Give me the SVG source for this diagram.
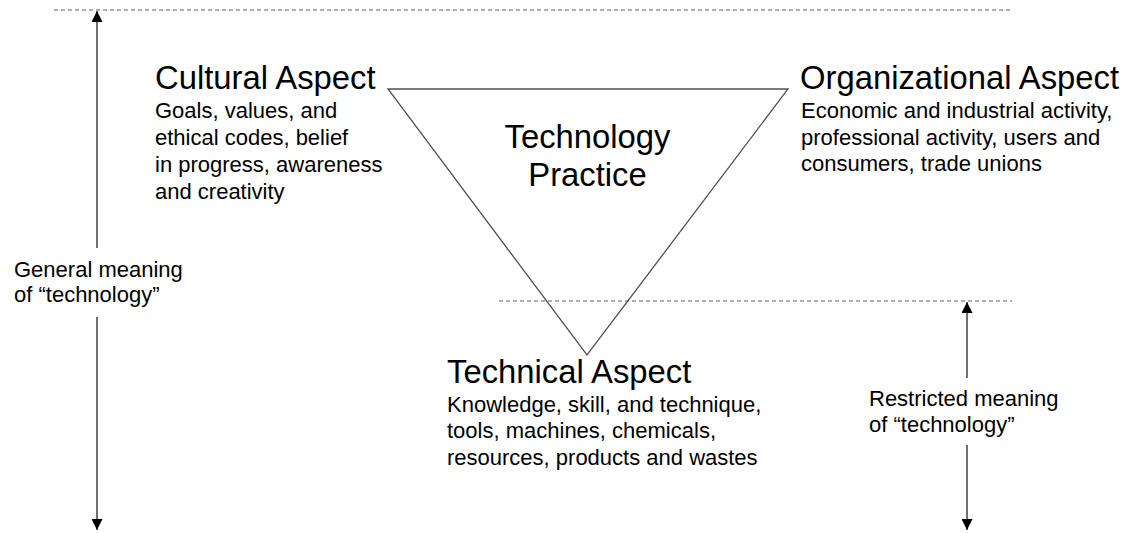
<svg xmlns="http://www.w3.org/2000/svg" width="1138" height="533" viewBox="0 0 1138 533">
<style>
text{font-family:"Liberation Sans",Arial,sans-serif;fill:#000}
.t{font-size:32.8px}
.b{font-size:22px}
.dash{stroke:#606060;stroke-width:1.2;stroke-dasharray:4 3;fill:none}
.ar{stroke:#404040;stroke-width:1.5;fill:none}
.head{fill:#000}
</style>
<defs>
<marker id="ah" viewBox="0 0 10 10" refX="10" refY="5" markerWidth="11" markerHeight="11" markerUnits="userSpaceOnUse" orient="auto">
<path d="M0,0 L10,5 L0,10 Z" class="head"/>
</marker>
</defs>
<rect width="1138" height="533" fill="#fff"/>
<g id="connectors">
<line class="dash" x1="54" y1="10" x2="1012" y2="10"/>
<line class="dash" x1="499" y1="301" x2="1012" y2="301"/>
<line class="ar" x1="97" y1="248" x2="97" y2="11" marker-end="url(#ah)"/>
<line class="ar" x1="97" y1="317" x2="97" y2="530" marker-end="url(#ah)"/>
<line class="ar" x1="967" y1="378" x2="967" y2="302" marker-end="url(#ah)"/>
<line class="ar" x1="967" y1="445" x2="967" y2="530" marker-end="url(#ah)"/>
</g>
<g id="practice">
<polygon points="388,89 788,89 587,355" fill="none" stroke="#505050" stroke-width="1.3"/>
<text class="t" x="587.5" y="148" text-anchor="middle">Technology</text>
<text class="t" x="587.5" y="186" text-anchor="middle">Practice</text>
</g>
<g id="cultural">
<text class="t" x="155" y="89">Cultural Aspect</text>
<text class="b" x="155" y="118">Goals, values, and</text>
<text class="b" x="155" y="145">ethical codes, belief</text>
<text class="b" x="155" y="172">in progress, awareness</text>
<text class="b" x="155" y="199">and creativity</text>
</g>
<g id="organizational">
<text class="t" x="800" y="89">Organizational Aspect</text>
<text class="b" x="801" y="118">Economic and industrial activity,</text>
<text class="b" x="801" y="145">professional activity, users and</text>
<text class="b" x="801" y="171">consumers, trade unions</text>
</g>
<g id="technical">
<text class="t" x="447" y="383">Technical Aspect</text>
<text class="b" x="447" y="412">Knowledge, skill, and technique,</text>
<text class="b" x="447" y="438">tools, machines, chemicals,</text>
<text class="b" x="447" y="465">resources, products and wastes</text>
</g>
<g id="general">
<text class="b" x="14" y="277">General meaning</text>
<text class="b" x="14" y="302">of “technology”</text>
</g>
<g id="restricted">
<text class="b" x="869" y="406">Restricted meaning</text>
<text class="b" x="869" y="432">of “technology”</text>
</g>
</svg>
